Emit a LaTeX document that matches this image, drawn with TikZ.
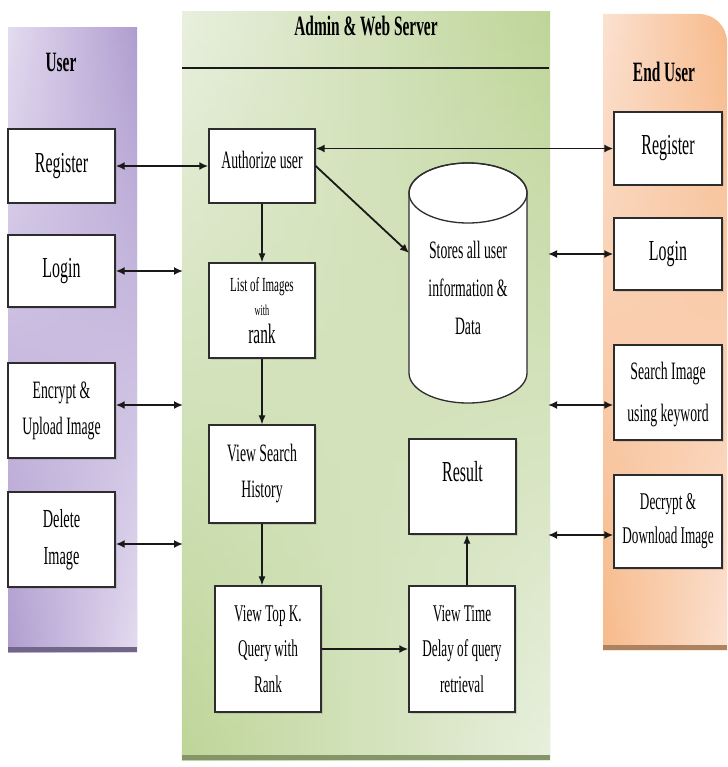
\documentclass[tikz,border=0pt]{standalone}
\usepackage{fontspec}
\setmainfont{Liberation Serif}
\newfontfamily\cond[FakeStretch=0.55]{Liberation Serif}
\usetikzlibrary{arrows.meta,shadows,fadings}
\definecolor{boxc}{RGB}{45,45,45}
\definecolor{arrc}{RGB}{25,25,25}
\definecolor{pL}{RGB}{228,220,240}
\definecolor{pD}{RGB}{176,157,208}
\definecolor{gL}{RGB}{233,240,223}
\definecolor{gD}{RGB}{190,213,152}
\definecolor{oL}{RGB}{252,226,210}
\definecolor{oD}{RGB}{247,186,138}
\tikzset{
  box/.style={draw=boxc, line width=1.4pt, fill=white, align=center, inner sep=0pt,
    minimum width=106pt, font=\cond\fontsize{25}{36}\selectfont,
    drop shadow={shadow xshift=1.5pt, shadow yshift=-1.5pt, opacity=0.25}},
  big/.style={font=\cond\fontsize{29}{36}\selectfont},
  lbl/.style={align=center, inner sep=0pt, font=\cond\fontsize{25}{38}\selectfont},
  ttl/.style={inner sep=0pt, font=\cond\bfseries\fontsize{28}{30}\selectfont},
  dbl/.style={{Latex[length=9pt,width=8pt]}-{Latex[length=9pt,width=8pt]}, line width=1.8pt, draw=arrc},
  one/.style={-{Latex[length=9pt,width=7pt]}, line width=1.1pt, draw=arrc},
  onethick/.style={-{Latex[length=9pt,width=8pt]}, line width=1.8pt, draw=arrc},
}
\begin{document}
\begin{tikzpicture}[x=1pt,y=-1pt]
\useasboundingbox (0,0) rectangle (727,767);
\fill[white] (0,0) rectangle (727,767);

% ---- panels ----
% User (purple)
\shade[left color=pL, right color=pD] (8,28) rectangle (137,652);
\shade[left color=pD, right color=pL, path fading=north] (8,28) rectangle (137,652);
\fill[black!35!pD] (8,647) rectangle (137,652);
% Admin & Web Server (green)
\shade[left color=gL, right color=gD] (182,12) rectangle (550,760);
\shade[left color=gD, right color=gL, path fading=north] (182,12) rectangle (550,760);
\fill[black!30!gD] (182,755) rectangle (550,760);
% End User (orange)
\shade[left color=oL, right color=oD] (603,650) -- (603,14) {[rounded corners=28pt] -- (727,14) -- (727,80)} -- (727,650) -- cycle;
\shade[left color=oD, right color=oL, path fading=north] (603,650) -- (603,14) {[rounded corners=28pt] -- (727,14) -- (727,80)} -- (727,650) -- cycle;
\fill[black!30!oD] (603,645) rectangle (727,650);

% ---- titles ----
\node[ttl] (tuser) at (61,62) {User};
\node[ttl] (tadmin) at (366,26) {Admin \& Web Server};
\node[ttl] (tend) at (664,72) {End User};
\coordinate (hl1) at (182,68);
\coordinate (hl2) at (549,68);
\draw[line width=2pt, draw=arrc] (hl1) -- (hl2);

% ---- User boxes ----
\node[box, big, minimum width=107pt, minimum height=74pt] (ureg) at (61.5,166) {Register};
\node[box, big, minimum width=107pt, minimum height=72pt] (ulog) at (61.5,271) {Login};
\node[box, minimum width=107pt, minimum height=95pt] (uenc) at (61.5,410.5) {Encrypt \&\\Upload Image};
\node[box, minimum width=107pt, minimum height=95pt, font=\cond\fontsize{26}{37}\selectfont] (udel) at (61.5,539.5) {Delete\\Image};

% ---- Admin boxes ----
\node[box, minimum height=74pt, text depth=12pt] (auth) at (262,166) {Authorize user};
\node[box, minimum height=95pt, font=\cond\fontsize{20}{24}\selectfont] (list) at (262,310.5)
  {List of Images\\[0pt]{\fontsize{15}{15}\selectfont with}\\[4pt]{\fontsize{28}{28}\selectfont rank}};
\node[box, minimum height=98pt] (vsh) at (262,474) {View Search\\History};
\node[box, minimum height=126pt, font=\cond\fontsize{24}{35.5}\selectfont] (topk) at (268,649) {View Top K.\\Query with\\Rank};
\node[box, minimum height=126pt, font=\cond\fontsize{24}{35.5}\selectfont] (vtd) at (462,649) {View Time\\Delay of query\\retrieval};
\node[box, big, minimum width=107pt, minimum height=95pt, text depth=30pt] (res) at (462.5,486.5) {Result};

% database cylinder
\filldraw[fill=white, draw=boxc, line width=1.3pt]
  (409,193) -- (409,373) arc[start angle=180, end angle=360, x radius=59pt, y radius=30pt]
  -- (527,193) arc[start angle=0, end angle=180, x radius=59pt, y radius=30pt] -- cycle;
\draw[draw=boxc, line width=1.3pt] (468,193) ellipse [x radius=59pt, y radius=30pt];
\node[lbl] (db) at (468,288) {Stores all user\\information \&\\Data};
\coordinate (dbw) at (409,253);

% ---- End User boxes ----
\node[box, big, minimum width=108pt, minimum height=73pt] (ereg) at (668,148.5) {Register};
\node[box, big, minimum width=108pt, minimum height=72pt] (elog) at (668,254) {Login};
\node[box, minimum width=108pt, minimum height=95pt, font=\cond\fontsize{25}{42}\selectfont, text depth=2pt] (esr) at (668,392.5) {Search Image\\using keyword};
\node[box, minimum width=108pt, minimum height=93pt, font=\cond\fontsize{24}{34}\selectfont] (edec) at (668,521.5) {Decrypt \&\\Download Image};

% ---- connectors ----
\coordinate (gl2) at (183,271);
\coordinate (gl3) at (183,405);
\coordinate (gl4) at (183,544);
\coordinate (gr2) at (548,254);
\coordinate (gr3) at (548,405);
\coordinate (gr4) at (548,535);

\draw[dbl] (ureg.east) -- (auth.west);
\draw[dbl] (ulog.east) -- (gl2);
\draw[dbl] (uenc.east |- gl3) -- (gl3);
\draw[dbl] (udel.east |- gl4) -- (gl4);

\draw[dbl] (auth.east |- ereg.west) -- (ereg.west);
\draw[onethick] (auth.east) -- (dbw);
\draw[dbl] (gr2) -- (elog.west);
\draw[dbl] (gr3) -- (esr.west |- gr3);
\draw[dbl] (gr4) -- (edec.west |- gr4);

\draw[one] (auth.south) -- (list.north);
\draw[one] (list.south) -- (vsh.north);
\draw[one] (vsh.south) -- (vsh.south |- topk.north);
\draw[onethick] (topk.east) -- (vtd.west);
\draw[one] ([xshift=5pt]vtd.north) -- ([xshift=5pt]vtd.north |- res.south);
\end{tikzpicture}
\end{document}
